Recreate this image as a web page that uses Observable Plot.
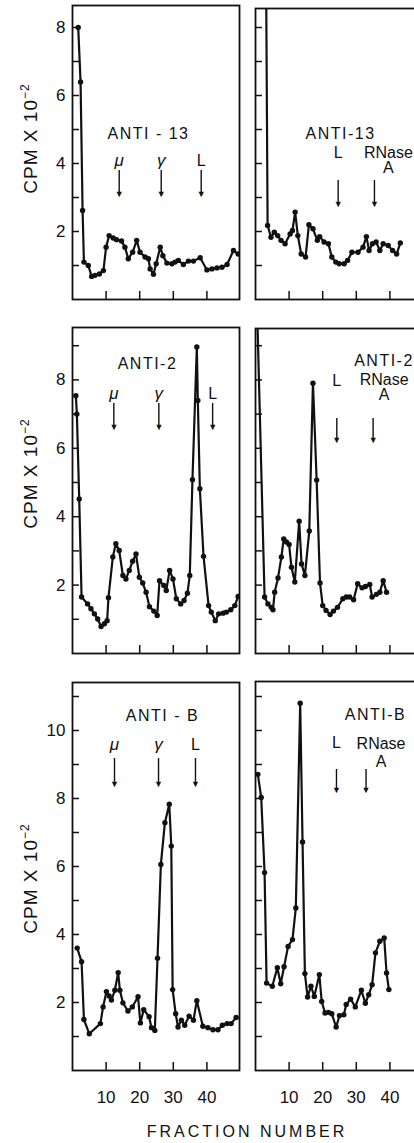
<!DOCTYPE html>
<html>
<head>
<meta charset="utf-8">
<script src="https://cdn.jsdelivr.net/npm/d3@7"></script>
<script src="https://cdn.jsdelivr.net/npm/@observablehq/plot@0.6"></script>
<style>
  html, body { margin: 0; padding: 0; background: #fff; overflow: hidden; }
  #wrap { position: relative; width: 414px; height: 1143px; overflow: hidden;
          font-family: "Liberation Sans", Arial, sans-serif; color: #111; }
  .panel { position: absolute; }
  .panel svg { max-width: none !important; display: block; }
  #xlabel { position: absolute; left: 47px; width: 400px; top: 1124px; text-align: center;
            font-size: 16px; line-height: 16px; letter-spacing: 3px; color: #111; }
</style>
</head>
<body>
<div id="wrap"><div id="xlabel">FRACTION NUMBER</div></div>
<script>
// ---------------- DATA ----------------
const xTicks = [10, 20, 30, 40];

// ANTI-13, left column
const tlFraction = [1.7,2.4,3.0,3.4,4.7,5.7,6.7,8.0,9.2,10.0, 10.9,12.1,13.1,14.6,15.6,16.6,17.9,19.1,20.1,21.6, 22.6,23.1,24.1,24.9,26.1,26.9,28.1,29.6,30.5,31.5, 33.0,34.5,36.0,38.0,40.0,41.5,43.0,44.5,46.0,47.9, 49.3];
const tlCpm      = [8.0,6.4,2.62,1.10,1.0,0.68,0.71,0.75,0.85,1.54, 1.88,1.81,1.76,1.72,1.54,1.2,1.39,1.74,1.39,1.25, 1.2,0.9,0.74,1.05,1.54,1.29,1.07,1.05,1.1,1.15, 1.03,1.13,1.13,1.23,0.87,0.9,0.93,0.95,1.03,1.44, 1.34];
const tlMarkerNames = ["μ", "γ", "L"];
const tlMarkerFractions = [13.9, 26.4, 38.3];

// ANTI-13, right column
const trFraction = [3.0,3.6,4.6,5.6,6.6,7.6,8.8,10.3,11.0,11.8, 12.6,13.6,14.9,15.9,17.1,18.4,19.1,20.4,21.7,22.7, 23.9,24.9,26.4,27.4,28.7,30.5,32.0,33.0,33.8,34.8, 35.9,37.0,38.0,39.5,40.8,42.0,43.1];
const trCpm      = [12,2.18,1.83,1.98,1.88,1.74,1.64,1.93,2.03,2.57, 1.88,1.34,1.25,2.2,2.08,1.74,1.85,1.69,1.64,1.25, 1.1,1.05,1.05,1.15,1.39,1.39,1.54,1.85,1.44,1.64, 1.69,1.44,1.64,1.59,1.44,1.34,1.66];
const trMarkerNames = ["L", "RNase\nA"];
const trMarkerFractions = [24.6, 35.4];

// ANTI-2, left column
const mlFraction = [1.0,1.3,2.0,2.7,4.5,5.5,6.5,7.5,8.5,9.5, 10.3,10.7,12.0,12.9,13.9,15.0,15.9,16.9,17.9,18.9, 19.9,20.9,21.9,22.9,24.2,25.2,25.9,27.2,27.9,28.9, 29.9,30.9,32.2,33.2,34.2,34.9,35.7,37.0,37.3,37.9, 39.0,40.5,41.3,42.5,43.5,44.8,45.8,47.1,48.3,49.3];
const mlCpm      = [7.54,7.0,4.52,1.65,1.45,1.31,1.16,1.01,0.79,0.87, 0.96,1.63,2.82,3.21,3.01,2.28,2.18,2.43,2.70,2.91, 2.23,2.06,1.79,1.37,1.24,1.11,2.13,1.99,1.84,2.43, 2.18,1.6,1.45,1.55,1.76,2.28,5.08,8.96,7.4,4.82, 2.84,1.40,1.21,0.96,1.16,1.18,1.21,1.28,1.40,1.67];
const mlMarkerNames = ["μ", "γ", "L"];
const mlMarkerFractions = [12.3, 25.7, 41.7];

// ANTI-2, right column
const mrFraction = [0.5,2.7,3.7,4.7,5.2,5.7,6.7,7.7,8.4,9.2, 10.0,10.7,11.7,13.0,13.7,14.7,16.0,17.1,18.2,19.2, 20.0,21.0,22.2,23.2,24.4,26.0,27.0,28.0,29.2,30.4, 31.7,32.7,34.0,34.7,36.0,37.0,38.0,39.0];
const mrCpm      = [10,1.65,1.45,1.35,1.28,1.79,2.21,2.82,3.35,3.26, 3.19,2.52,2.09,3.87,2.62,2.28,3.58,7.90,5.07,2.06, 1.40,1.26,1.14,1.24,1.35,1.60,1.65,1.65,1.57,2.04, 1.92,1.96,2.02,1.65,1.73,1.79,2.13,1.79];
const mrMarkerNames = ["L", "RNase\nA"];
const mrMarkerFractions = [24.2, 35.0];

// ANTI-B, left column
const blFraction = [1.4,2.7,3.4,5.0,8.3,9.1,10.1,10.9,11.6,12.6, 13.6,14.1,15.0,16.5,17.8,19.5,20.2,21.2,22.8,23.5, 24.5,25.3,26.3,27.5,28.8,29.4,29.8,30.7,31.4,32.4, 33.4,34.7,36.0,37.0,38.8,40.3,41.8,43.3,44.6,46.0, 47.2,48.7];
const blCpm      = [3.6,3.2,1.5,1.08,1.38,1.87,2.32,2.19,2.07,2.36, 2.88,2.36,1.99,1.75,1.87,2.17,1.40,1.79,1.58,1.26, 1.18,3.3,6.06,7.29,7.83,6.6,2.38,1.67,1.28,1.48, 1.33,1.6,1.48,2.05,1.3,1.26,1.2,1.2,1.33,1.38, 1.38,1.56];
const blMarkerNames = ["μ", "γ", "L"];
const blMarkerFractions = [12.5, 25.6, 36.6];

// ANTI-B, right column
const brFraction = [0.7,1.7,2.7,3.3,5.0,6.5,7.5,8.5,9.7,11.0, 12.0,13.3,14.0,14.7,15.5,16.5,17.5,19.0,19.7,20.7, 21.7,22.7,24.0,25.0,26.3,27.0,28.3,29.7,31.5,32.7, 33.7,34.7,35.7,37.0,38.3,39.0,39.7];
const brCpm      = [8.71,8.03,5.82,2.57,2.48,3.02,2.55,3.05,3.65,3.85, 4.78,10.8,6.72,2.85,2.16,2.48,2.18,2.82,2.03,1.69, 1.71,1.67,1.28,1.61,1.64,1.94,2.10,1.87,2.36,1.98, 2.23,2.52,3.46,3.80,3.90,2.87,2.38];
const brMarkerNames = ["L", "RNase\nA"];
const brMarkerFractions = [24.1, 32.9];

const titles = { tl: "ANTI - 13", tr: "ANTI-13", ml: "ANTI-2", mr: "ANTI-2", bl: "ANTI - B", br: "ANTI-B" };
const yLabelsTop = [2, 4, 6, 8];
const yLabelsMid = [2, 4, 6, 8];
const yLabelsBot = [2, 4, 6, 8, 10];

// ---------------- LAYOUT ----------------
const FW = 167;          // frame width (px)
const XMAX = 49.7;       // fraction domain max
const FONT = '"Liberation Sans", Arial, sans-serif';
const INK = "#111";

const panels = [
  { key: "tl", fr: tlFraction, cpm: tlCpm, names: tlMarkerNames, mf: tlMarkerFractions,
    left: 0, top: 0, mL: 72, mR: 8, mT: 5, mB: 6, frameH: 294, ymax: 294 / 34,
    yTicks: d3.range(1, 9), yLabels: yLabelsTop, titleDx: 76, titleDy: 128,
    labelDy: 155, arrowTop: 165, arrowTip: 192, axisCy: 138.5 },
  { key: "tr", fr: trFraction, cpm: trCpm, names: trMarkerNames, mf: trMarkerFractions,
    left: 247, top: 2, mL: 8, mR: 8, mT: 6, mB: 6, frameH: 291, ymax: 291 / 34,
    yTicks: d3.range(1, 9), yLabels: [], titleDx: 85, titleDy: 125.5,
    labelDy: 144.5, rnDy: 152, rnLH: 0.94, rnDx: 14, arrowTop: 172, arrowTip: 199 },
  { key: "ml", fr: mlFraction, cpm: mlCpm, names: mlMarkerNames, mf: mlMarkerFractions,
    left: 0, top: 321, mL: 72, mR: 8, mT: 6, mB: 6, frameH: 326, ymax: 326 / 34.2,
    yTicks: d3.range(1, 10), yLabels: yLabelsMid, titleDx: 75, titleDy: 36,
    labelDy: 66, arrowTop: 76, arrowTip: 103, axisCy: 152.5 },
  { key: "mr", fr: mrFraction, cpm: mrCpm, names: mrMarkerNames, mf: mrMarkerFractions,
    left: 247, top: 322, mL: 8, mR: 8, mT: 6, mB: 6, frameH: 325, ymax: 325 / 34.2,
    yTicks: d3.range(1, 10), yLabels: [], titleDx: 128.5, titleDy: 32.5,
    labelDy: 52, rnDy: 59.5, rnLH: 0.94, rnDx: 11, arrowTop: 90, arrowTip: 115 },
  { key: "bl", fr: blFraction, cpm: blCpm, names: blMarkerNames, mf: blMarkerFractions,
    left: 0, top: 676, mL: 72, mR: 8, mT: 6, mB: 45, frameH: 388, ymax: 388 / 34,
    yTicks: d3.range(1, 12), yLabels: yLabelsBot, titleDx: 90, titleDy: 33.5,
    labelDy: 62, arrowTop: 76, arrowTip: 105, axisCy: 202.5, xLabels: true },
  { key: "br", fr: brFraction, cpm: brCpm, names: brMarkerNames, mf: brMarkerFractions,
    left: 247, top: 675, mL: 8, mR: 8, mT: 6, mB: 45, frameH: 389, ymax: 389 / 34,
    yTicks: d3.range(1, 12), yLabels: [], titleDx: 120, titleDy: 33,
    labelDy: 61.5, rnDy: 70.75, rnLH: 1.16, rnDx: 15, arrowTop: 88, arrowTip: 112, xLabels: true }
];

const wrap = document.getElementById("wrap");

for (const p of panels) {
  const data = p.fr.map((f, i) => ({ f, v: p.cpm[i] }));
  const markers = p.names.map((name, i) => ({ name, f: p.mf[i] }));
  const simple = markers.filter(m => !m.name.includes("\n"));
  const greek = simple.filter(m => m.name !== "L");
  const plain = simple.filter(m => m.name === "L");
  const multi = markers.filter(m => m.name.includes("\n"));
  const W = p.mL + FW + p.mR;
  const H = p.mT + p.frameH + p.mB;

  const marks = [
    Plot.tickY(p.yTicks, { y: d => d, insetRight: FW - 7, stroke: INK, strokeWidth: 1.5 }),
    Plot.tickX(xTicks, { x: d => d, insetTop: p.frameH - 8, stroke: INK, strokeWidth: 1.5 }),
    Plot.line(data, { x: "f", y: "v", stroke: INK, strokeWidth: 2.2, clip: true }),
    Plot.dot(data, { x: "f", y: "v", r: 2.7, fill: INK, stroke: "none", clip: true }),
    Plot.frame({ stroke: INK, strokeWidth: 1.8 }),
    // marker arrows
    Plot.ruleX(markers, { x: "f", insetTop: p.arrowTop, insetBottom: p.frameH - (p.arrowTip - 4), stroke: INK, strokeWidth: 1.4 }),
    Plot.text(markers, { x: "f", text: () => "▼", frameAnchor: "top", dy: p.arrowTip - 3, fontSize: 9, lineAnchor: "middle", fill: INK }),
    // marker labels
    Plot.text(greek, { x: "f", text: "name", frameAnchor: "top", dy: p.labelDy, fontSize: 17, fontStyle: "italic", lineAnchor: "middle", fill: INK }),
    Plot.text(plain, { x: "f", text: "name", frameAnchor: "top", dy: p.labelDy, fontSize: 16, lineAnchor: "middle", fill: INK }),
    Plot.text(multi, { x: "f", text: "name", frameAnchor: "top", dx: p.rnDx || 0, dy: p.rnDy || 0, fontSize: 16, lineHeight: p.rnLH || 1, lineAnchor: "middle", fill: INK }),
    // panel title
    Plot.text([titles[p.key]], { text: d => d, frameAnchor: "top-left", dx: p.titleDx, dy: p.titleDy, fontSize: 16, textAnchor: "middle", lineAnchor: "middle", fill: INK }),
    // y tick labels
    Plot.text(p.yLabels, { y: d => d, text: d => String(d), frameAnchor: "left", dx: -7, textAnchor: "end", fontSize: 17, lineAnchor: "middle", fill: INK })
  ];
  if (p.xLabels) {
    marks.push(Plot.text(xTicks, { x: d => d, text: d => String(d), frameAnchor: "bottom", dy: 20, lineAnchor: "top", fontSize: 17, fill: INK }));
  }

  const chart = Plot.plot({
    width: W,
    height: H,
    marginLeft: p.mL, marginRight: p.mR, marginTop: p.mT, marginBottom: p.mB,
    x: { domain: [0, XMAX], axis: null },
    y: { domain: [0, p.ymax], axis: null },
    style: { fontFamily: FONT, background: "transparent", color: INK, overflow: "visible", maxWidth: "none" },
    marks
  });

  const svgEl = chart.tagName.toLowerCase() === "svg" ? chart : chart.querySelector("svg");
  svgEl.style.maxWidth = "none";
  svgEl.style.width = W + "px";
  svgEl.style.height = H + "px";
  const svg = d3.select(svgEl);
  svg.selectAll("text")
    .filter(function () { return this.textContent.startsWith("ANTI"); })
    .style("letter-spacing", "1.5px");

  if (p.axisCy !== undefined) {
    const t = svg.append("text")
      .attr("transform", `translate(37,${p.axisCy}) rotate(-90)`)
      .attr("text-anchor", "middle")
      .attr("fill", INK)
      .style("font-family", FONT)
      .style("font-size", "19px")
      .style("letter-spacing", "1px");
    t.append("tspan").text("CPM X 10");
    t.append("tspan").attr("dy", -8).style("font-size", "12px").text("−2");
  }

  const holder = document.createElement("div");
  holder.className = "panel";
  holder.style.left = p.left + "px";
  holder.style.top = p.top + "px";
  holder.style.width = W + "px";
  holder.style.height = H + "px";
  holder.appendChild(chart);
  wrap.appendChild(holder);
}
</script>
</body>
</html>
